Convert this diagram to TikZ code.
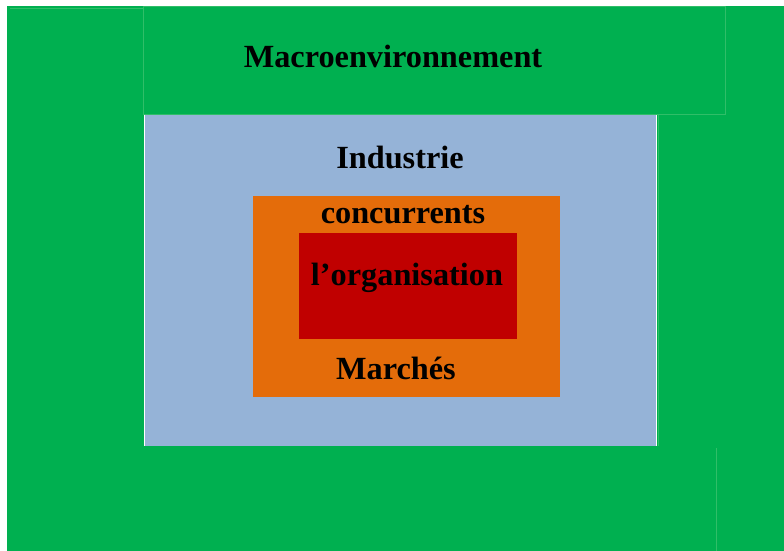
\documentclass[tikz,border=0pt]{standalone}
\usepackage{fontspec}
\setmainfont{Liberation Serif}
\definecolor{macrogreen}{HTML}{00B050}
\definecolor{faintgreen}{HTML}{30BE68}
\definecolor{indblue}{HTML}{95B3D7}
\definecolor{concorange}{HTML}{E46C0A}
\definecolor{orgred}{HTML}{C00000}
\tikzset{
  lbl/.style={anchor=base, inner sep=0pt, font=\fontsize{32.3}{36}\selectfont\bfseries, text=black},
  faint/.style={draw=faintgreen, line width=0.8pt}
}
\begin{document}
\begin{tikzpicture}[x=1pt,y=-1pt]
\useasboundingbox (0,0) rectangle (784,551);
\fill[white] (0,0) rectangle (784,551);
% green background
\fill[macrogreen] (7,6) rectangle (784,551);
% faint outlines
\draw[faint] (10,8) -- (143,8);
\draw[faint] (143,6) rectangle (725,114);
\draw[faint] (658,114) -- (658,446);
\draw[faint] (716,448) -- (716,551);
% nested boxes
\fill[indblue] (144,115) rectangle (656,446);
\draw[white, line width=0.8pt] (144,115) -- (144,446);
\draw[white, line width=0.8pt] (656.5,115) -- (656.5,446);
\fill[concorange] (253,196) rectangle (560,397);
\fill[orgred] (299,233) rectangle (517,339);
% labels
\node[lbl] (macro) at (393,67) {Macroenvironnement};
\node[lbl] (ind) at (400,168) {Industrie};
\node[lbl] (conc) at (403,223) {concurrents};
\node[lbl] (org) at (407,285) {l’organisation};
\node[lbl] (marc) at (396,379) {Marchés};
\end{tikzpicture}
\end{document}
